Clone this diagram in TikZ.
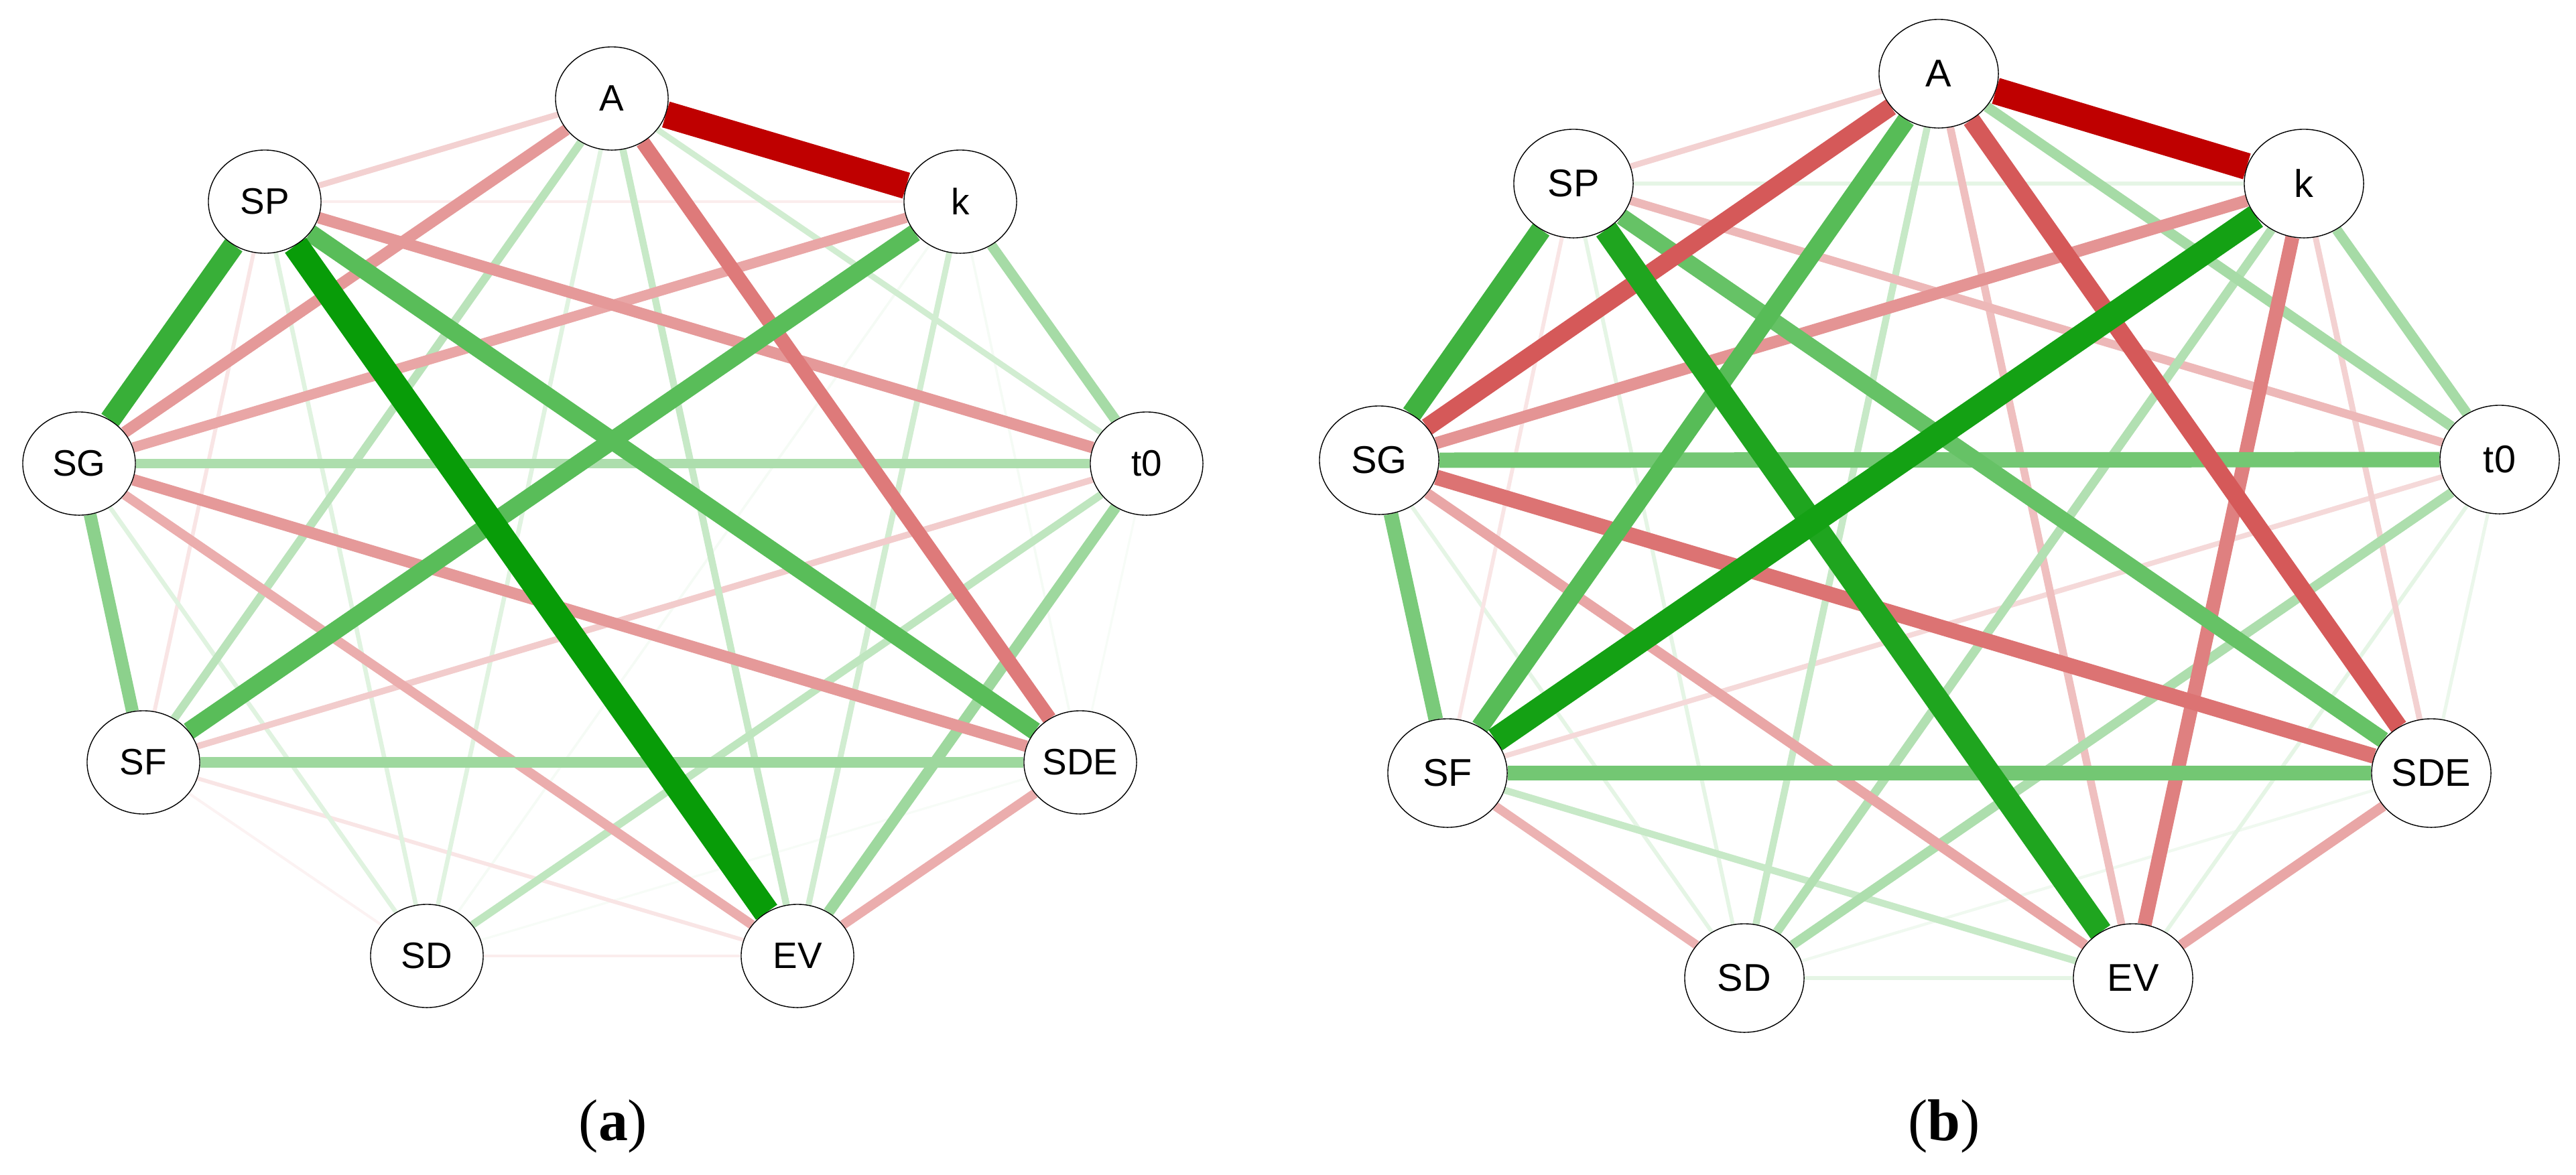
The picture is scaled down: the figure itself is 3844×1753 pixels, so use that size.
\documentclass[tikz,border=0pt]{standalone}
\usepackage{fontspec}
\usetikzlibrary{shapes.geometric}
\newfontfamily\labfont{Liberation Sans}
\newfontfamily\capfont{Liberation Serif}
\definecolor{posG}{HTML}{009900}
\definecolor{negR}{HTML}{BF0000}
\pgfdeclarelayer{bglayer}
\pgfdeclarelayer{edgelayer}
\pgfsetlayers{bglayer,edgelayer,main}
\tikzset{
  pe/.style={draw=posG!#1!white, line width={0.569pt+#1*0.1081pt}},
  ne/.style={draw=negR!#1!white, line width={0.569pt+#1*0.1081pt}},
  nda/.style={ellipse, draw=black, line width=0.4pt, fill=white, inner sep=0pt,
    minimum width=1.68cm, minimum height=1.54cm,
    font=\labfont\fontsize{15.6}{18}\selectfont},
  ndb/.style={ellipse, draw=black, line width=0.4pt, fill=white, inner sep=0pt,
    minimum width=1.78cm, minimum height=1.62cm,
    font=\labfont\fontsize{16.4}{19}\selectfont},
  captxt/.style={inner sep=0pt, font=\capfont\fontsize{25}{30}\selectfont}
}
\begin{document}
\begin{tikzpicture}[x=0.01cm,y=-0.01cm]
\begin{pgfonlayer}{bglayer}
\fill[white] (0,0) rectangle (3844,1753);
\end{pgfonlayer}
\useasboundingbox (0,0) rectangle (3844,1753);
% ---------- panel (a) nodes
\node[nda] (aA)   at (913,147)  {A};
\node[nda] (ak)   at (1433,301) {k};
\node[nda] (at0)  at (1711,692) {t0};
\node[nda] (aSDE) at (1612,1138) {SDE};
\node[nda] (aEV)  at (1190,1427) {EV};
\node[nda] (aSD)  at (637,1427) {SD};
\node[nda] (aSF)  at (214,1138) {SF};
\node[nda] (aSG)  at (118,692)  {SG};
\node[nda] (aSP)  at (395,301)  {SP};
% ---------- panel (b) nodes
\node[ndb] (bA)   at (2893,110)  {A};
\node[ndb] (bk)   at (3438,274)  {k};
\node[ndb] (bt0)  at (3730,686)  {t0};
\node[ndb] (bSDE) at (3628,1154) {SDE};
\node[ndb] (bEV)  at (3183,1460) {EV};
\node[ndb] (bSD)  at (2603,1460) {SD};
\node[ndb] (bSF)  at (2160,1154) {SF};
\node[ndb] (bSG)  at (2058,687)  {SG};
\node[ndb] (bSP)  at (2348,274)  {SP};
% ---------- captions
\node[captxt] (capa) at (915,1681) {(\textbf{a})};
\node[captxt] (capb) at (2901,1681) {(\textbf{b})};
% ---------- edges
\begin{pgfonlayer}{edgelayer}
% panel (a)
\draw[pe=3] (at0) -- (aSDE);
\draw[pe=3] (aSD) -- (aSDE);
\draw[pe=4] (ak) -- (aSD);
\draw[pe=4] (ak) -- (aSDE);
\draw[ne=5] (aSD) -- (aSF);
\draw[ne=7] (aSD) -- (aEV);
\draw[ne=7] (ak) -- (aSP);
\draw[ne=10] (aSF) -- (aEV);
\draw[ne=10] (aSF) -- (aSP);
\draw[pe=12] (aSG) -- (aSD);
\draw[pe=12] (aSP) -- (aSD);
\draw[pe=12] (aA) -- (aSD);
\draw[pe=18] (ak) -- (aEV);
\draw[pe=18] (aA) -- (at0);
\draw[ne=18] (aA) -- (aSP);
\draw[ne=20] (at0) -- (aSF);
\draw[pe=22] (aA) -- (aEV);
\draw[pe=25] (at0) -- (aSD);
\draw[pe=27] (aA) -- (aSF);
\draw[ne=32] (aSG) -- (aEV);
\draw[ne=32] (aSDE) -- (aEV);
\draw[pe=32] (at0) -- (aSG);
\draw[ne=35] (ak) -- (aSG);
\draw[pe=35] (ak) -- (at0);
\draw[pe=38] (at0) -- (aEV);
\draw[pe=38] (aSF) -- (aSDE);
\draw[ne=40] (aSP) -- (at0);
\draw[ne=40] (aSG) -- (aSDE);
\draw[ne=40] (aA) -- (aSG);
\draw[pe=45] (aSF) -- (aSG);
\draw[ne=52] (aA) -- (aSDE);
\draw[pe=65] (aSP) -- (aSDE);
\draw[pe=65] (ak) -- (aSF);
\draw[pe=78] (aSG) -- (aSP);
\draw[pe=97] (aSP) -- (aEV);
\draw[ne=100] (aA) -- (ak);
% panel (b)
\draw[pe=6] (bSD) -- (bSDE);
\draw[pe=8] (bt0) -- (bSDE);
\draw[pe=10] (bk) -- (bSP);
\draw[pe=10] (bSG) -- (bSD);
\draw[pe=10] (bSP) -- (bSD);
\draw[pe=10] (bt0) -- (bEV);
\draw[pe=10] (bSD) -- (bEV);
\draw[ne=10] (bSF) -- (bSP);
\draw[ne=15] (bt0) -- (bSF);
\draw[ne=18] (bA) -- (bSP);
\draw[ne=18] (bk) -- (bSDE);
\draw[pe=22] (bA) -- (bSD);
\draw[pe=22] (bSF) -- (bEV);
\draw[ne=25] (bA) -- (bEV);
\draw[ne=28] (bt0) -- (bSP);
\draw[ne=30] (bSF) -- (bSD);
\draw[pe=30] (bk) -- (bSD);
\draw[pe=32] (bt0) -- (bSD);
\draw[pe=35] (bA) -- (bt0);
\draw[pe=35] (bk) -- (bt0);
\draw[ne=35] (bSDE) -- (bEV);
\draw[ne=35] (bSG) -- (bEV);
\draw[ne=42] (bk) -- (bSG);
\draw[ne=50] (bk) -- (bEV);
\draw[pe=52] (bSF) -- (bSG);
\draw[pe=55] (bt0) -- (bSG);
\draw[pe=55] (bSF) -- (bSDE);
\draw[ne=55] (bSG) -- (bSDE);
\draw[pe=60] (bSP) -- (bSDE);
\draw[ne=65] (bA) -- (bSG);
\draw[ne=65] (bA) -- (bSDE);
\draw[pe=66] (bA) -- (bSF);
\draw[pe=75] (bSG) -- (bSP);
\draw[pe=88] (bSP) -- (bEV);
\draw[pe=92] (bk) -- (bSF);
\draw[ne=100] (bA) -- (bk);
\end{pgfonlayer}
\end{tikzpicture}
\end{document}
